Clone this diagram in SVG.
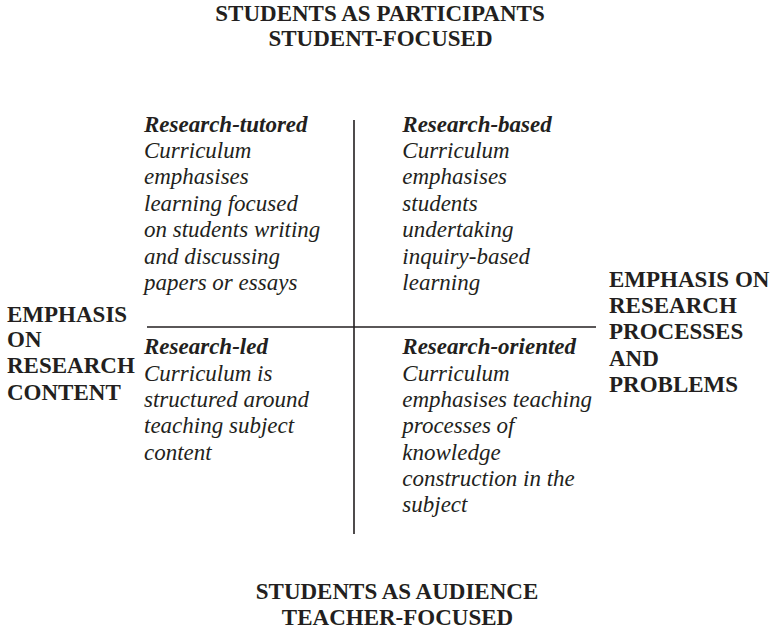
<svg xmlns="http://www.w3.org/2000/svg" width="771" height="630" viewBox="0 0 771 630">
<style>
text{font-family:"Liberation Serif","Times New Roman",serif;font-size:23px;fill:#231f20}
.b{font-weight:bold}
.i{font-style:italic}
.bi{font-weight:bold;font-style:italic}
.c{text-anchor:middle}
.ax{stroke:#231f20;stroke-width:1.6;fill:none}
</style>
<rect width="771" height="630" fill="#fff"/>
<g id="axes">
<line class="ax" x1="354" y1="120" x2="354" y2="534"/>
<line class="ax" x1="147" y1="327" x2="596" y2="327"/>
</g>
<g id="top-label">
<text class="b c" x="380" y="21">STUDENTS AS PARTICIPANTS</text>
<text class="b c" x="380.5" y="46">STUDENT-FOCUSED</text>
</g>
<g id="bottom-label">
<text class="b c" x="397" y="598.5">STUDENTS AS AUDIENCE</text>
<text class="b c" x="397.5" y="625">TEACHER-FOCUSED</text>
</g>
<g id="left-label">
<text class="b" x="7" y="321.5">EMPHASIS</text>
<text class="b" x="7" y="347">ON</text>
<text class="b" x="7" y="373.3">RESEARCH</text>
<text class="b" x="7" y="400">CONTENT</text>
</g>
<g id="right-label">
<text class="b" x="609" y="287">EMPHASIS ON</text>
<text class="b" x="609" y="313">RESEARCH</text>
<text class="b" x="609" y="339.3">PROCESSES</text>
<text class="b" x="609" y="365.7">AND</text>
<text class="b" x="609" y="392">PROBLEMS</text>
</g>
<g id="research-tutored">
<text class="bi" x="144" y="131.7">Research-tutored</text>
<text class="i" x="144" y="157.7">Curriculum</text>
<text class="i" x="144" y="184">emphasises</text>
<text class="i" x="144" y="210.7">learning focused</text>
<text class="i" x="144" y="237.3">on students writing</text>
<text class="i" x="144" y="263.5">and discussing</text>
<text class="i" x="144" y="290">papers or essays</text>
</g>
<g id="research-based">
<text class="bi" x="402.3" y="131.7">Research-based</text>
<text class="i" x="402.3" y="157.7">Curriculum</text>
<text class="i" x="402.3" y="184">emphasises</text>
<text class="i" x="402.3" y="210.7">students</text>
<text class="i" x="402.3" y="237.3">undertaking</text>
<text class="i" x="402.3" y="263.5">inquiry-based</text>
<text class="i" x="402.3" y="290">learning</text>
</g>
<g id="research-led">
<text class="bi" x="144" y="354.3">Research-led</text>
<text class="i" x="144" y="380.7">Curriculum is</text>
<text class="i" x="144" y="407">structured around</text>
<text class="i" x="144" y="433.3">teaching subject</text>
<text class="i" x="144" y="459.7">content</text>
</g>
<g id="research-oriented">
<text class="bi" x="402.3" y="354.3">Research-oriented</text>
<text class="i" x="402.3" y="380.7">Curriculum</text>
<text class="i" x="402.3" y="407">emphasises teaching</text>
<text class="i" x="402.3" y="433.3">processes of</text>
<text class="i" x="402.3" y="459.7">knowledge</text>
<text class="i" x="402.3" y="486">construction in the</text>
<text class="i" x="402.3" y="512">subject</text>
</g>
</svg>
